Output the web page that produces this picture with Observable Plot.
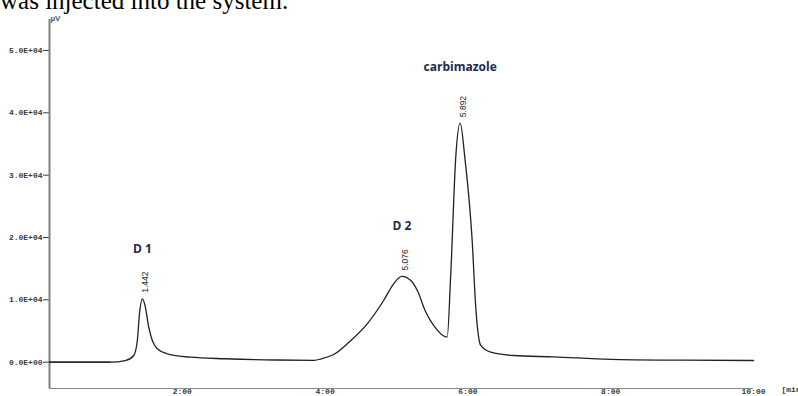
<!DOCTYPE html>
<html><head><meta charset="utf-8">
<script src="https://cdn.jsdelivr.net/npm/d3@7"></script>
<script src="https://cdn.jsdelivr.net/npm/@observablehq/plot@0.6"></script>
<style>
html,body{margin:0;padding:0;background:#fff;overflow:hidden}
#wrap{position:relative;width:798px;height:396px;overflow:hidden}
#title{position:absolute;left:0;top:-12px;font:25px/25px "Liberation Serif",serif;color:#000;white-space:nowrap;z-index:2}
#chart{position:absolute;left:0;top:0}
</style></head><body>
<div id="wrap"><div id="chart"></div><div id="title">was injected into the system.</div></div>
<script>
// chromatogram trace (time in min, signal in µV)
const timeMin = [0.14, 1.0, 1.2, 1.32, 1.37, 1.40, 1.442, 1.48, 1.53, 1.58, 1.65, 1.79, 2.11, 2.6, 3.3, 3.85, 3.95, 4.12, 4.36, 4.59, 4.82, 4.96, 5.076, 5.20, 5.30, 5.40, 5.52, 5.71, 5.76, 5.83, 5.892, 5.96, 6.06, 6.11, 6.18, 6.32, 6.64, 7.2, 8.0, 9.0, 10.0];
const signalUV = [0, 0, 250, 1070, 3480, 7760, 10170, 9000, 5610, 3480, 2150, 1350, 800, 550, 350, 300, 550, 1230, 3480, 6160, 9900, 12570, 13750, 13100, 11300, 8300, 5890, 4010, 14180, 32900, 38340, 32500, 19500, 8800, 2680, 1600, 1070, 850, 450, 320, 270];

const peakNames = ["D 1", "D 2", "carbimazole"];
const peakTimes = [1.442, 5.076, 5.892];
const peakHeights = [10170, 13750, 38340];
const peakRT = ["1.442", "5.076", "5.892"];

const xDomain = [0.14, 10];
const yDomain = [-4220, 54970];
const xTicks = [2, 4, 6, 8, 10];
const xTickLabels = ["2:00", "4:00", "6:00", "8:00", "10:00"];
const yTicks = [0, 10000, 20000, 30000, 40000, 50000];
const yTickLabels = ["0.0E+00", "1.0E+04", "2.0E+04", "3.0E+04", "4.0E+04", "5.0E+04"];
const xUnit = "[min]";
const yUnit = "µV";

const trace = timeMin.map((t, i) => ({t, v: signalUV[i]}));
const peaks = peakNames.map((name, i) => ({name, t: peakTimes[i], v: peakHeights[i], rt: peakRT[i]}));

const chart = Plot.plot({
  width: 798,
  height: 396,
  marginLeft: 49,
  marginRight: 45,
  marginTop: 19,
  marginBottom: 8,
  style: {fontFamily: "'Liberation Mono', monospace", fontSize: "8px", fontWeight: "bold", color: "#3a3a3a", background: "transparent", overflow: "visible"},
  x: {domain: xDomain, ticks: xTicks, tickFormat: d => xTickLabels[xTicks.indexOf(d)], tickSize: 0, tickPadding: 0, label: null},
  y: {domain: yDomain, ticks: yTicks, tickFormat: d => yTickLabels[yTicks.indexOf(d)], tickSize: 6, tickPadding: 1, label: null},
  marks: [
    Plot.ruleY([yDomain[0]], {stroke: "#8a8a8a", strokeWidth: 1.2}),
    Plot.ruleX([xDomain[0]], {stroke: "#808080", strokeWidth: 2}),
    Plot.ruleY([0], {x1: xDomain[0], x2: timeMin[1], stroke: "#222", strokeWidth: 1.2}),
    Plot.line(trace, {x: "t", y: "v", curve: "monotone-x", stroke: "#222", strokeWidth: 1.3}),
    Plot.text(peaks, {x: "t", y: "v", text: "rt", rotate: -90, textAnchor: "start", dx: 3, dy: -6, fontFamily: "'Liberation Sans', Arial, sans-serif", fontSize: 8.5, fontWeight: "normal", fill: "#222"}),
    Plot.text(peaks.filter(p => p.v < 20000), {x: "t", y: "v", text: "name", dy: -50, fontFamily: "'Open Sans', 'Noto Sans', sans-serif", fontSize: 12, fontWeight: "bold", fill: "#1b2a4e"}),
    Plot.text(peaks.filter(p => p.v >= 20000), {x: "t", y: "v", text: "name", dy: -56, fontFamily: "'Open Sans', 'Noto Sans', sans-serif", fontSize: 12, fontWeight: "bold", fill: "#1b2a4e"}),
    Plot.text([xUnit], {frameAnchor: "bottom-right", text: d => d, textAnchor: "start", dx: 28, dy: 3, fontFamily: "'Liberation Mono', monospace", fontSize: 8, fill: "#3a3a3a"}),
    Plot.text([yUnit], {frameAnchor: "top-left", text: d => d, textAnchor: "start", dx: 1, dy: -4, fontFamily: "'Liberation Sans', sans-serif", fontSize: 8, fill: "#555"})
  ]
});
document.getElementById("chart").appendChild(chart);
</script>
</body></html>
